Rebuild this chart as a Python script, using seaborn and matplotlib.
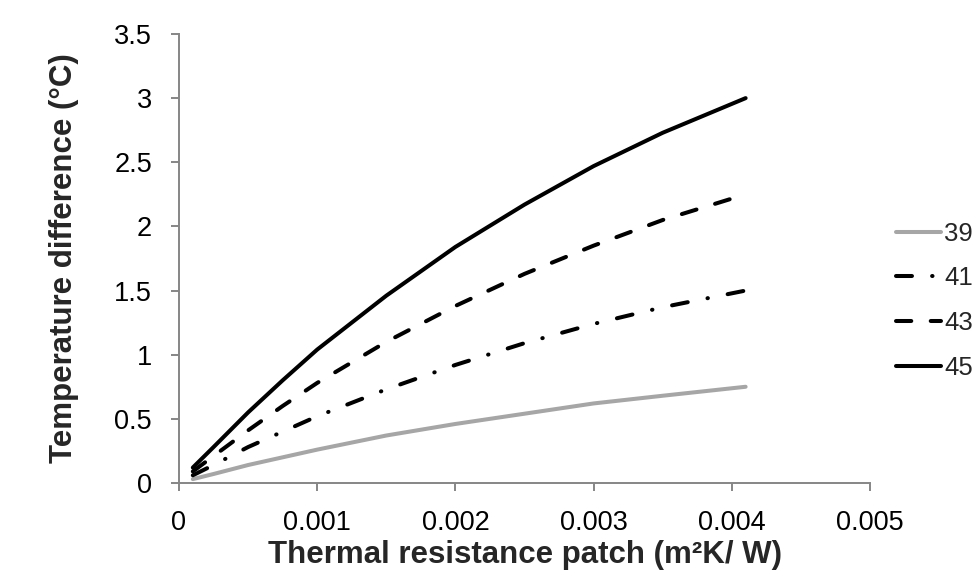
import numpy as np
import pandas as pd
import seaborn as sns
import matplotlib
matplotlib.use('Agg')
import matplotlib.pyplot as plt
from matplotlib.ticker import FuncFormatter

# Data.
resistance = [0.0001, 0.00025, 0.0005, 0.00075, 0.001, 0.0015, 0.002, 0.0025, 0.003, 0.0035, 0.0041]
dT_39 = [0.03, 0.07, 0.14, 0.20, 0.26, 0.37, 0.46, 0.54, 0.62, 0.68, 0.75]
dT_41 = [0.06, 0.14, 0.28, 0.40, 0.52, 0.73, 0.92, 1.09, 1.24, 1.37, 1.50]
dT_43 = [0.09, 0.21, 0.41, 0.60, 0.78, 1.10, 1.38, 1.63, 1.85, 2.05, 2.25]
dT_45 = [0.12, 0.28, 0.55, 0.80, 1.04, 1.46, 1.84, 2.17, 2.47, 2.73, 3.00]
series_names = ['39', '41', '43', '45']
x_ticks = [0, 0.001, 0.002, 0.003, 0.004, 0.005]
y_ticks = [0, 0.5, 1, 1.5, 2, 2.5, 3, 3.5]


def main():
    sns.set_theme(style='white')
    plt.rcParams['font.family'] = ['Liberation Sans', 'DejaVu Sans']
    plt.rcParams['lines.scale_dashes'] = False

    df = pd.DataFrame({
        'x': resistance * 4,
        'y': dT_39 + dT_41 + dT_43 + dT_45,
        'series': [s for s in series_names for _ in resistance],
    })

    styles = {
        '39': dict(color='#A6A6A6', dashes=None),
        '41': dict(color='black', dashes=(11.5, 14.5, 0.3, 14.5)),
        '43': dict(color='black', dashes=(11, 14)),
        '45': dict(color='black', dashes=None),
    }

    fig = plt.figure(figsize=(9.76, 5.76), dpi=100)
    ax = fig.add_axes([0.1834, 0.1615, 0.7080, 0.7795])

    for name in series_names:
        sub = df[df['series'] == name]
        st = styles[name]
        sns.lineplot(data=sub, x='x', y='y', ax=ax, color=st['color'], lw=2.9,
                     label=name, legend=False)
        line = ax.lines[-1]
        line.set_solid_capstyle('round')
        line.set_solid_joinstyle('round')
        line.set_dash_capstyle('round')
        if st['dashes'] is not None:
            line.set_dashes(st['dashes'])

    # Axes look.
    ax.set_xlim(0, 0.005)
    ax.set_ylim(0, 3.5)
    ax.set_xticks(x_ticks)
    ax.set_yticks(y_ticks)
    ax.xaxis.set_major_formatter(FuncFormatter(lambda v, p: '%g' % round(v, 6)))
    ax.yaxis.set_major_formatter(FuncFormatter(lambda v, p: '%g' % v))
    for side in ['top', 'right']:
        ax.spines[side].set_visible(False)
    for side in ['left', 'bottom']:
        ax.spines[side].set_color('#868686')
        ax.spines[side].set_linewidth(1.4)
    ax.tick_params(axis='both', direction='out', length=6, width=1.4, color='#868686',
                   labelsize=19.5, labelcolor='black', pad=13.5,
                   left=True, bottom=True)
    ax.grid(False)

    ax.set_xlabel('Thermal resistance patch (m²K/ W)', fontsize=22.5, fontweight='bold',
                  labelpad=3)
    ax.set_ylabel('Temperature difference (°C)', fontsize=22.5, fontweight='bold',
                  labelpad=25)

    handles = ax.lines[:4]
    fig.legend(handles, series_names, loc='center left', bbox_to_anchor=(0.918, 0.478),
               frameon=False, fontsize=18.5, handlelength=1.76, handletextpad=0.12,
               labelspacing=0.8, borderpad=0, borderaxespad=0)

    plt.savefig('out.png', dpi=100)
    plt.close()


if __name__ == '__main__':
    main()
